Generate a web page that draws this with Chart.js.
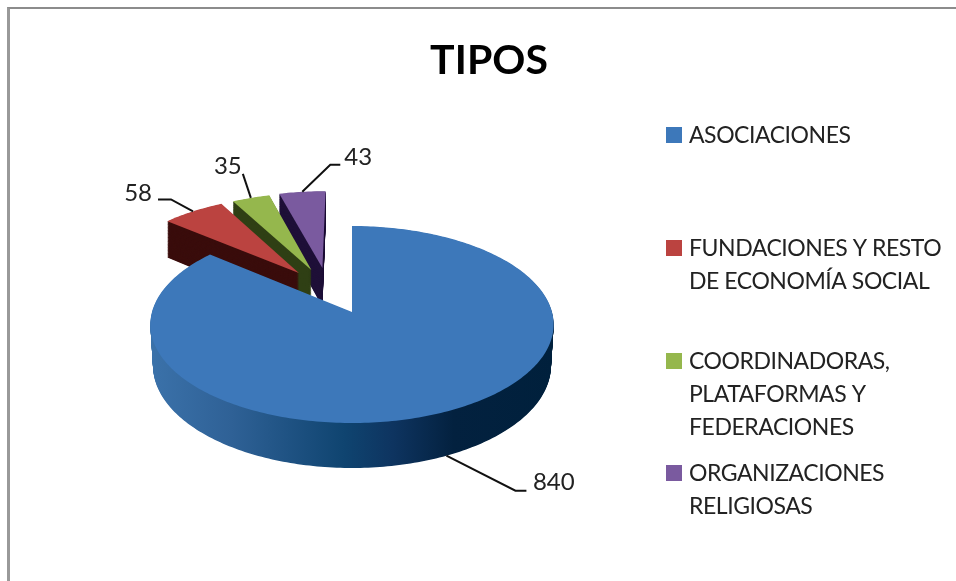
<!DOCTYPE html>
<html>
<head>
<meta charset="utf-8">
<title>TIPOS</title>
<script src="https://cdn.jsdelivr.net/npm/chart.js@4"></script>
<style>
  html, body { margin: 0; padding: 0; background: #fff; overflow: hidden; }
  #frame { position: absolute; left: 7px; top: 7px; width: 949px; height: 574px; border-left: 3px solid #999; border-top: 2px solid #8c8c8c; box-sizing: border-box; }
  #pieChart { position: absolute; left: 0; top: 0; }
</style>
</head>
<body>
<canvas id="pieChart" width="956" height="581"></canvas>
<div id="frame"></div>
<script>
// Datos del grafico
const categories = [
  ["ASOCIACIONES"],
  ["FUNDACIONES Y RESTO", "DE ECONOMÍA SOCIAL"],
  ["COORDINADORAS,", "PLATAFORMAS Y", "FEDERACIONES"],
  ["ORGANIZACIONES", "RELIGIOSAS"],
];
const values = [840, 58, 35, 43];

// Colores
const topColors = ["#3d78ba", "#bb4340", "#95b74d", "#7a5a9f"];
const sideColors = [null, "#3a0d0c", "#2f3f14", "#1f1038"];
const font = "Lato, Carlito, sans-serif";

// Camara del pie: centro, radios y perspectiva
const view = { x: 352, y: 312, rx: 200, ry: 96.9, depth: 41.3, persp: 0.127, shrink: 0.013 };

// Desplazamiento de cada porcion separada, en unidades de radio
const explode = [[0, 0], [-0.28, -0.424], [-0.215, -0.459], [-0.157, -0.482]];

// Lineas guia y etiquetas, relativas al borde de cada porcion
const leaders = [
  { path: [[69, 35], [80, 35]], label: [86.5, 27], align: "left", onBottom: true },
  { path: [[-22, -12], [-35, -12]], label: [-41, -18], align: "right" },
  { path: [[-8, -24]], label: [-23, -32], align: "center" },
  { path: [[28, -27], [38, -27]], label: [42, -35], align: "left" },
];

// Leyenda
const legendBox = { x: 666, size: 16, textX: 689, lineHeight: 32.6 };
const legendY = [136, 249, 362, 474];

function project(u, v, z, shrink) {
  const w = 1 - view.persp * v + shrink * z;
  return [view.x + (view.rx * u) / w, view.y + (view.ry * v + view.depth * z) / w];
}

// Contorno de una porcion: centro + arco
function outline(arc, i, z) {
  const [ox, oy] = explode[i];
  // solo la porcion grande se estrecha hacia abajo
  const shrink = i === 0 ? view.shrink : 0;
  const pts = [project(ox, oy, z, shrink)];
  const steps = Math.ceil(((arc.endAngle - arc.startAngle) * 180) / Math.PI);
  for (let s = 0; s <= steps; s++) {
    const a = arc.startAngle + ((arc.endAngle - arc.startAngle) * s) / steps;
    pts.push(project(ox + Math.cos(a), oy + Math.sin(a), z, shrink));
  }
  return pts;
}

function fillPoly(ctx, pts, style) {
  ctx.beginPath();
  pts.forEach((p, n) => (n ? ctx.lineTo(p[0], p[1]) : ctx.moveTo(p[0], p[1])));
  ctx.closePath();
  ctx.fillStyle = style;
  ctx.fill();
}

function blueSide(ctx) {
  const g = ctx.createLinearGradient(150, 0, 555, 0);
  g.addColorStop(0, "#3b72aa");
  g.addColorStop(0.2, "#2f6196");
  g.addColorStop(0.48, "#0f4470");
  g.addColorStop(0.6, "#0e3460");
  g.addColorStop(0.75, "#03213f");
  g.addColorStop(1, "#00203c");
  return g;
}

const pie3d = {
  id: "pie3d",
  // El pie plano de Chart.js se sustituye por la version 3D, con sus mismos angulos
  beforeDatasetsDraw(chart) {
    const ctx = chart.ctx;
    const arcs = chart.getDatasetMeta(0).data;
    ctx.save();
    // de atras hacia adelante: morado, verde, rojo, azul
    [3, 2, 1, 0].forEach((i) => {
      const side = sideColors[i] || blueSide(ctx);
      // el grosor se rellena capa a capa, de abajo hacia arriba
      for (let z = 60; z > 0; z--) fillPoly(ctx, outline(arcs[i], i, z / 60), side);
      fillPoly(ctx, outline(arcs[i], i, 0), topColors[i]);
    });
    ctx.restore();
    return false;
  },
  afterDraw(chart) {
    const ctx = chart.ctx;
    const arcs = chart.getDatasetMeta(0).data;
    ctx.save();
    ctx.textBaseline = "middle";

    // lineas guia y valores
    arcs.forEach((arc, i) => {
      const mid = (arc.startAngle + arc.endAngle) / 2;
      const l = leaders[i];
      const [ax, ay] = project(explode[i][0] + Math.cos(mid), explode[i][1] + Math.sin(mid), l.onBottom ? 1 : 0, view.shrink);
      ctx.beginPath();
      ctx.moveTo(ax, ay);
      l.path.forEach((p) => ctx.lineTo(ax + p[0], ay + p[1]));
      ctx.strokeStyle = "#111";
      ctx.lineWidth = 2;
      ctx.stroke();
      ctx.font = "24px " + font;
      ctx.fillStyle = "#222";
      ctx.textAlign = l.align;
      ctx.fillText(String(values[i]), ax + l.label[0], ay + l.label[1]);
    });

    // leyenda
    ctx.textAlign = "left";
    ctx.font = "23px " + font;
    ctx.letterSpacing = "-0.45px";
    categories.forEach((lines, i) => {
      ctx.fillStyle = topColors[i];
      ctx.fillRect(legendBox.x, legendY[i] - 1 - legendBox.size / 2, legendBox.size, legendBox.size);
      ctx.fillStyle = "#222";
      lines.forEach((t, n) => ctx.fillText(t, legendBox.textX, legendY[i] + n * legendBox.lineHeight));
    });
    ctx.restore();
  },
};

new Chart(document.getElementById("pieChart"), {
  type: "pie",
  data: {
    labels: categories,
    datasets: [{ data: values, backgroundColor: topColors, borderWidth: 0 }],
  },
  options: {
    responsive: false,
    animation: false,
    layout: { padding: { left: 22 } },
    plugins: {
      legend: { display: false },
      tooltip: { enabled: false },
      title: {
        display: true,
        text: "TIPOS",
        fullSize: false,
        color: "#000",
        font: { family: font, size: 41, weight: "bold" },
        padding: { top: 36, bottom: 10 },
      },
    },
  },
  plugins: [pie3d],
});
</script>
</body>
</html>
